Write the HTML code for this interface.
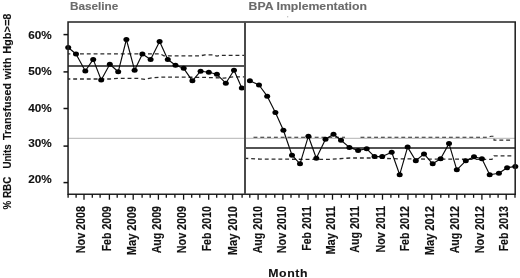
<!DOCTYPE html>
<html><head><meta charset="utf-8"><style>
html,body{margin:0;padding:0;background:#fff;}
body{width:520px;height:278px;overflow:hidden;}
svg{display:block;will-change:transform;}
text{white-space:pre;}
</style></head><body>
<svg width="520" height="278" viewBox="0 0 520 278">
<line x1="68" y1="138.4" x2="515" y2="138.4" stroke="#c2c2c2" stroke-width="1.1"/>
<line x1="68" y1="66.0" x2="245" y2="66.0" stroke="#1a1a1a" stroke-width="1.5"/>
<line x1="245" y1="147.9" x2="515" y2="147.9" stroke="#1a1a1a" stroke-width="1.5"/>
<polyline points="68.0,53.8 160.0,53.8 164.0,55.9 200.0,55.9 205.0,54.8 213.0,54.8 217.0,56.1 220.0,55.4 244.0,55.4" fill="none" stroke="#2a2a2a" stroke-width="1.3" stroke-dasharray="3.9 2.9" stroke-dashoffset="1.6"/>
<polyline points="68.0,79.0 110.0,79.0 120.0,78.3 138.0,78.4 145.0,79.3 152.0,77.9 162.0,77.1 200.0,77.3 215.0,77.7 224.0,78.1 234.0,76.8 244.0,76.8" fill="none" stroke="#2a2a2a" stroke-width="1.3" stroke-dasharray="3.9 2.9" stroke-dashoffset="1.6"/>
<polyline points="246.0,158.4 260.0,159.1 330.0,159.4 350.0,158.0 370.0,158.0 400.0,158.9 492.0,159.4 494.0,155.8 513.0,155.8" fill="none" stroke="#2a2a2a" stroke-width="1.3" stroke-dasharray="3.9 2.9" stroke-dashoffset="1.6"/>
<polyline points="253.5,137.2 345,137.2" fill="none" stroke="#2a2a2a" stroke-width="1.1" stroke-dasharray="3.9 2.9"/>
<polyline points="360.5,137.2 488.0,137.2 491.0,136.3 494.0,136.3 494.0,140.1 513.0,140.1" fill="none" stroke="#2a2a2a" stroke-width="1.1" stroke-dasharray="3.9 2.9"/>
<polyline points="68.2,47.5 76.0,54.0 85.3,71.0 93.2,59.4 101.2,80.0 109.8,64.2 118.2,71.8 126.4,39.5 134.6,70.2 142.4,54.1 150.6,59.4 159.6,41.5 167.8,59.5 175.5,65.2 183.7,68.3 192.4,80.8 200.6,71.2 208.8,72.2 216.9,74.3 225.8,83.2 234.0,70.2 241.8,88.0" fill="none" stroke="#0a0a0a" stroke-width="1.15" stroke-linejoin="round"/>
<polyline points="249.9,80.7 259.0,85.0 267.2,96.2 275.4,112.5 283.4,130.2 292.0,155.2 300.0,163.8 308.4,136.2 316.3,158.2 325.5,139.3 333.5,134.2 341.0,140.2 349.4,147.4 358.1,150.4 366.7,148.8 374.5,156.6 382.2,156.6 391.7,152.2 399.7,174.7 407.6,147.1 415.8,160.8 424.0,153.9 432.7,163.8 440.6,158.7 449.0,143.6 456.8,169.8 465.8,160.8 474.0,156.8 481.9,158.7 489.7,174.7 498.9,173.3 507.1,167.8 515.3,166.4" fill="none" stroke="#0a0a0a" stroke-width="1.15" stroke-linejoin="round"/>
<ellipse cx="68.2" cy="47.5" rx="3" ry="2.5" fill="#000"/>
<ellipse cx="76.0" cy="54.0" rx="3" ry="2.5" fill="#000"/>
<ellipse cx="85.3" cy="71.0" rx="3" ry="2.5" fill="#000"/>
<ellipse cx="93.2" cy="59.4" rx="3" ry="2.5" fill="#000"/>
<ellipse cx="101.2" cy="80.0" rx="3" ry="2.5" fill="#000"/>
<ellipse cx="109.8" cy="64.2" rx="3" ry="2.5" fill="#000"/>
<ellipse cx="118.2" cy="71.8" rx="3" ry="2.5" fill="#000"/>
<ellipse cx="126.4" cy="39.5" rx="3" ry="2.5" fill="#000"/>
<ellipse cx="134.6" cy="70.2" rx="3" ry="2.5" fill="#000"/>
<ellipse cx="142.4" cy="54.1" rx="3" ry="2.5" fill="#000"/>
<ellipse cx="150.6" cy="59.4" rx="3" ry="2.5" fill="#000"/>
<ellipse cx="159.6" cy="41.5" rx="3" ry="2.5" fill="#000"/>
<ellipse cx="167.8" cy="59.5" rx="3" ry="2.5" fill="#000"/>
<ellipse cx="175.5" cy="65.2" rx="3" ry="2.5" fill="#000"/>
<ellipse cx="183.7" cy="68.3" rx="3" ry="2.5" fill="#000"/>
<ellipse cx="192.4" cy="80.8" rx="3" ry="2.5" fill="#000"/>
<ellipse cx="200.6" cy="71.2" rx="3" ry="2.5" fill="#000"/>
<ellipse cx="208.8" cy="72.2" rx="3" ry="2.5" fill="#000"/>
<ellipse cx="216.9" cy="74.3" rx="3" ry="2.5" fill="#000"/>
<ellipse cx="225.8" cy="83.2" rx="3" ry="2.5" fill="#000"/>
<ellipse cx="234.0" cy="70.2" rx="3" ry="2.5" fill="#000"/>
<ellipse cx="241.8" cy="88.0" rx="3" ry="2.5" fill="#000"/>
<ellipse cx="249.9" cy="80.7" rx="3" ry="2.5" fill="#000"/>
<ellipse cx="259.0" cy="85.0" rx="3" ry="2.5" fill="#000"/>
<ellipse cx="267.2" cy="96.2" rx="3" ry="2.5" fill="#000"/>
<ellipse cx="275.4" cy="112.5" rx="3" ry="2.5" fill="#000"/>
<ellipse cx="283.4" cy="130.2" rx="3" ry="2.5" fill="#000"/>
<ellipse cx="292.0" cy="155.2" rx="3" ry="2.5" fill="#000"/>
<ellipse cx="300.0" cy="163.8" rx="3" ry="2.5" fill="#000"/>
<ellipse cx="308.4" cy="136.2" rx="3" ry="2.5" fill="#000"/>
<ellipse cx="316.3" cy="158.2" rx="3" ry="2.5" fill="#000"/>
<ellipse cx="325.5" cy="139.3" rx="3" ry="2.5" fill="#000"/>
<ellipse cx="333.5" cy="134.2" rx="3" ry="2.5" fill="#000"/>
<ellipse cx="341.0" cy="140.2" rx="3" ry="2.5" fill="#000"/>
<ellipse cx="349.4" cy="147.4" rx="3" ry="2.5" fill="#000"/>
<ellipse cx="358.1" cy="150.4" rx="3" ry="2.5" fill="#000"/>
<ellipse cx="366.7" cy="148.8" rx="3" ry="2.5" fill="#000"/>
<ellipse cx="374.5" cy="156.6" rx="3" ry="2.5" fill="#000"/>
<ellipse cx="382.2" cy="156.6" rx="3" ry="2.5" fill="#000"/>
<ellipse cx="391.7" cy="152.2" rx="3" ry="2.5" fill="#000"/>
<ellipse cx="399.7" cy="174.7" rx="3" ry="2.5" fill="#000"/>
<ellipse cx="407.6" cy="147.1" rx="3" ry="2.5" fill="#000"/>
<ellipse cx="415.8" cy="160.8" rx="3" ry="2.5" fill="#000"/>
<ellipse cx="424.0" cy="153.9" rx="3" ry="2.5" fill="#000"/>
<ellipse cx="432.7" cy="163.8" rx="3" ry="2.5" fill="#000"/>
<ellipse cx="440.6" cy="158.7" rx="3" ry="2.5" fill="#000"/>
<ellipse cx="449.0" cy="143.6" rx="3" ry="2.5" fill="#000"/>
<ellipse cx="456.8" cy="169.8" rx="3" ry="2.5" fill="#000"/>
<ellipse cx="465.8" cy="160.8" rx="3" ry="2.5" fill="#000"/>
<ellipse cx="474.0" cy="156.8" rx="3" ry="2.5" fill="#000"/>
<ellipse cx="481.9" cy="158.7" rx="3" ry="2.5" fill="#000"/>
<ellipse cx="489.7" cy="174.7" rx="3" ry="2.5" fill="#000"/>
<ellipse cx="498.9" cy="173.3" rx="3" ry="2.5" fill="#000"/>
<ellipse cx="507.1" cy="167.8" rx="3" ry="2.5" fill="#000"/>
<ellipse cx="515.3" cy="166.4" rx="3" ry="2.5" fill="#000"/>
<path d="M68.05,194.3 V21.95 H515.2 V194.3 Z" fill="none" stroke="#222" stroke-width="1.55"/>
<line x1="245" y1="21.95" x2="245" y2="194.3" stroke="#4a4a4a" stroke-width="2"/>
<line x1="63.5" y1="34.6" x2="68" y2="34.6" stroke="#111" stroke-width="1.5"/>
<line x1="63.5" y1="71.9" x2="68" y2="71.9" stroke="#111" stroke-width="1.5"/>
<line x1="63.5" y1="108.5" x2="68" y2="108.5" stroke="#111" stroke-width="1.5"/>
<line x1="63.5" y1="146.1" x2="68" y2="146.1" stroke="#111" stroke-width="1.5"/>
<line x1="63.5" y1="182.6" x2="68" y2="182.6" stroke="#111" stroke-width="1.5"/>
<line x1="68.1" y1="194.3" x2="68.1" y2="197.8" stroke="#111" stroke-width="1.3"/>
<line x1="76.1" y1="194.3" x2="76.1" y2="197.8" stroke="#111" stroke-width="1.3"/>
<line x1="84.0" y1="194.3" x2="84.0" y2="199.7" stroke="#111" stroke-width="1.3"/>
<line x1="92.3" y1="194.3" x2="92.3" y2="197.8" stroke="#111" stroke-width="1.3"/>
<line x1="100.1" y1="194.3" x2="100.1" y2="197.8" stroke="#111" stroke-width="1.3"/>
<line x1="109.4" y1="194.3" x2="109.4" y2="199.7" stroke="#111" stroke-width="1.3"/>
<line x1="117.2" y1="194.3" x2="117.2" y2="197.8" stroke="#111" stroke-width="1.3"/>
<line x1="125.2" y1="194.3" x2="125.2" y2="197.8" stroke="#111" stroke-width="1.3"/>
<line x1="133.2" y1="194.3" x2="133.2" y2="199.7" stroke="#111" stroke-width="1.3"/>
<line x1="142.1" y1="194.3" x2="142.1" y2="197.8" stroke="#111" stroke-width="1.3"/>
<line x1="150.2" y1="194.3" x2="150.2" y2="197.8" stroke="#111" stroke-width="1.3"/>
<line x1="158.4" y1="194.3" x2="158.4" y2="199.7" stroke="#111" stroke-width="1.3"/>
<line x1="166.3" y1="194.3" x2="166.3" y2="197.8" stroke="#111" stroke-width="1.3"/>
<line x1="174.9" y1="194.3" x2="174.9" y2="197.8" stroke="#111" stroke-width="1.3"/>
<line x1="183.6" y1="194.3" x2="183.6" y2="199.7" stroke="#111" stroke-width="1.3"/>
<line x1="191.7" y1="194.3" x2="191.7" y2="197.8" stroke="#111" stroke-width="1.3"/>
<line x1="199.8" y1="194.3" x2="199.8" y2="197.8" stroke="#111" stroke-width="1.3"/>
<line x1="208.7" y1="194.3" x2="208.7" y2="199.7" stroke="#111" stroke-width="1.3"/>
<line x1="216.7" y1="194.3" x2="216.7" y2="197.8" stroke="#111" stroke-width="1.3"/>
<line x1="225.1" y1="194.3" x2="225.1" y2="197.8" stroke="#111" stroke-width="1.3"/>
<line x1="232.8" y1="194.3" x2="232.8" y2="199.7" stroke="#111" stroke-width="1.3"/>
<line x1="242.1" y1="194.3" x2="242.1" y2="197.8" stroke="#111" stroke-width="1.3"/>
<line x1="249.8" y1="194.3" x2="249.8" y2="197.8" stroke="#111" stroke-width="1.3"/>
<line x1="258.1" y1="194.3" x2="258.1" y2="199.7" stroke="#111" stroke-width="1.3"/>
<line x1="266.0" y1="194.3" x2="266.0" y2="197.8" stroke="#111" stroke-width="1.3"/>
<line x1="274.8" y1="194.3" x2="274.8" y2="197.8" stroke="#111" stroke-width="1.3"/>
<line x1="282.9" y1="194.3" x2="282.9" y2="199.7" stroke="#111" stroke-width="1.3"/>
<line x1="291.0" y1="194.3" x2="291.0" y2="197.8" stroke="#111" stroke-width="1.3"/>
<line x1="299.0" y1="194.3" x2="299.0" y2="197.8" stroke="#111" stroke-width="1.3"/>
<line x1="308.0" y1="194.3" x2="308.0" y2="199.7" stroke="#111" stroke-width="1.3"/>
<line x1="316.0" y1="194.3" x2="316.0" y2="197.8" stroke="#111" stroke-width="1.3"/>
<line x1="324.2" y1="194.3" x2="324.2" y2="197.8" stroke="#111" stroke-width="1.3"/>
<line x1="332.5" y1="194.3" x2="332.5" y2="199.7" stroke="#111" stroke-width="1.3"/>
<line x1="341.3" y1="194.3" x2="341.3" y2="197.8" stroke="#111" stroke-width="1.3"/>
<line x1="349.4" y1="194.3" x2="349.4" y2="197.8" stroke="#111" stroke-width="1.3"/>
<line x1="357.5" y1="194.3" x2="357.5" y2="199.7" stroke="#111" stroke-width="1.3"/>
<line x1="365.6" y1="194.3" x2="365.6" y2="197.8" stroke="#111" stroke-width="1.3"/>
<line x1="374.2" y1="194.3" x2="374.2" y2="197.8" stroke="#111" stroke-width="1.3"/>
<line x1="382.5" y1="194.3" x2="382.5" y2="199.7" stroke="#111" stroke-width="1.3"/>
<line x1="390.9" y1="194.3" x2="390.9" y2="197.8" stroke="#111" stroke-width="1.3"/>
<line x1="398.7" y1="194.3" x2="398.7" y2="197.8" stroke="#111" stroke-width="1.3"/>
<line x1="407.9" y1="194.3" x2="407.9" y2="199.7" stroke="#111" stroke-width="1.3"/>
<line x1="416.0" y1="194.3" x2="416.0" y2="197.8" stroke="#111" stroke-width="1.3"/>
<line x1="424.0" y1="194.3" x2="424.0" y2="197.8" stroke="#111" stroke-width="1.3"/>
<line x1="431.8" y1="194.3" x2="431.8" y2="199.7" stroke="#111" stroke-width="1.3"/>
<line x1="440.8" y1="194.3" x2="440.8" y2="197.8" stroke="#111" stroke-width="1.3"/>
<line x1="448.8" y1="194.3" x2="448.8" y2="197.8" stroke="#111" stroke-width="1.3"/>
<line x1="456.8" y1="194.3" x2="456.8" y2="199.7" stroke="#111" stroke-width="1.3"/>
<line x1="464.8" y1="194.3" x2="464.8" y2="197.8" stroke="#111" stroke-width="1.3"/>
<line x1="473.6" y1="194.3" x2="473.6" y2="197.8" stroke="#111" stroke-width="1.3"/>
<line x1="481.9" y1="194.3" x2="481.9" y2="199.7" stroke="#111" stroke-width="1.3"/>
<line x1="490.0" y1="194.3" x2="490.0" y2="197.8" stroke="#111" stroke-width="1.3"/>
<line x1="498.1" y1="194.3" x2="498.1" y2="197.8" stroke="#111" stroke-width="1.3"/>
<line x1="506.2" y1="194.3" x2="506.2" y2="199.7" stroke="#111" stroke-width="1.3"/>
<line x1="515.0" y1="194.3" x2="515.0" y2="197.8" stroke="#111" stroke-width="1.3"/>
<text transform="translate(51.7,38.90) scale(1.07,1)" text-anchor="end" style="font-family:'Liberation Sans',sans-serif;font-weight:bold;stroke:currentColor;stroke-width:0.12px;font-size:11px" fill="#111" color="#111">60%</text>
<text transform="translate(51.7,74.80) scale(1.07,1)" text-anchor="end" style="font-family:'Liberation Sans',sans-serif;font-weight:bold;stroke:currentColor;stroke-width:0.12px;font-size:11px" fill="#111" color="#111">50%</text>
<text transform="translate(51.7,111.55) scale(1.07,1)" text-anchor="end" style="font-family:'Liberation Sans',sans-serif;font-weight:bold;stroke:currentColor;stroke-width:0.12px;font-size:11px" fill="#111" color="#111">40%</text>
<text transform="translate(51.7,147.25) scale(1.07,1)" text-anchor="end" style="font-family:'Liberation Sans',sans-serif;font-weight:bold;stroke:currentColor;stroke-width:0.12px;font-size:11px" fill="#111" color="#111">30%</text>
<text transform="translate(51.7,183.45) scale(1.07,1)" text-anchor="end" style="font-family:'Liberation Sans',sans-serif;font-weight:bold;stroke:currentColor;stroke-width:0.12px;font-size:11px" fill="#111" color="#111">20%</text>
<text transform="translate(84.60,206) rotate(-90) scale(1.0,1.23)" x="0" y="0" text-anchor="end" style="font-family:'Liberation Sans',sans-serif;font-weight:bold;stroke:currentColor;stroke-width:0.12px;font-size:10.75px" fill="#111" color="#111">Nov 2008</text>
<text transform="translate(110.60,206) rotate(-90) scale(0.987,1.23)" x="0" y="0" text-anchor="end" style="font-family:'Liberation Sans',sans-serif;font-weight:bold;stroke:currentColor;stroke-width:0.12px;font-size:10.75px" fill="#111" color="#111">Feb 2009</text>
<text transform="translate(135.95,206) rotate(-90) scale(1.03,1.23)" x="0" y="0" text-anchor="end" style="font-family:'Liberation Sans',sans-serif;font-weight:bold;stroke:currentColor;stroke-width:0.12px;font-size:10.75px" fill="#111" color="#111">May 2009</text>
<text transform="translate(161.15,206) rotate(-90) scale(0.99,1.23)" x="0" y="0" text-anchor="end" style="font-family:'Liberation Sans',sans-serif;font-weight:bold;stroke:currentColor;stroke-width:0.12px;font-size:10.75px" fill="#111" color="#111">Aug 2009</text>
<text transform="translate(185.95,206) rotate(-90) scale(1.0,1.23)" x="0" y="0" text-anchor="end" style="font-family:'Liberation Sans',sans-serif;font-weight:bold;stroke:currentColor;stroke-width:0.12px;font-size:10.75px" fill="#111" color="#111">Nov 2009</text>
<text transform="translate(211.15,206) rotate(-90) scale(0.987,1.23)" x="0" y="0" text-anchor="end" style="font-family:'Liberation Sans',sans-serif;font-weight:bold;stroke:currentColor;stroke-width:0.12px;font-size:10.75px" fill="#111" color="#111">Feb 2010</text>
<text transform="translate(236.95,206) rotate(-90) scale(1.03,1.23)" x="0" y="0" text-anchor="end" style="font-family:'Liberation Sans',sans-serif;font-weight:bold;stroke:currentColor;stroke-width:0.12px;font-size:10.75px" fill="#111" color="#111">May 2010</text>
<text transform="translate(262.35,206) rotate(-90) scale(0.99,1.23)" x="0" y="0" text-anchor="end" style="font-family:'Liberation Sans',sans-serif;font-weight:bold;stroke:currentColor;stroke-width:0.12px;font-size:10.75px" fill="#111" color="#111">Aug 2010</text>
<text transform="translate(286.35,206) rotate(-90) scale(1.0,1.23)" x="0" y="0" text-anchor="end" style="font-family:'Liberation Sans',sans-serif;font-weight:bold;stroke:currentColor;stroke-width:0.12px;font-size:10.75px" fill="#111" color="#111">Nov 2010</text>
<text transform="translate(310.60,206) rotate(-90) scale(0.987,1.23)" x="0" y="0" text-anchor="end" style="font-family:'Liberation Sans',sans-serif;font-weight:bold;stroke:currentColor;stroke-width:0.12px;font-size:10.75px" fill="#111" color="#111">Feb 2011</text>
<text transform="translate(335.00,206) rotate(-90) scale(1.03,1.23)" x="0" y="0" text-anchor="end" style="font-family:'Liberation Sans',sans-serif;font-weight:bold;stroke:currentColor;stroke-width:0.12px;font-size:10.75px" fill="#111" color="#111">May 2011</text>
<text transform="translate(359.25,206) rotate(-90) scale(0.99,1.23)" x="0" y="0" text-anchor="end" style="font-family:'Liberation Sans',sans-serif;font-weight:bold;stroke:currentColor;stroke-width:0.12px;font-size:10.75px" fill="#111" color="#111">Aug 2011</text>
<text transform="translate(384.80,206) rotate(-90) scale(1.0,1.23)" x="0" y="0" text-anchor="end" style="font-family:'Liberation Sans',sans-serif;font-weight:bold;stroke:currentColor;stroke-width:0.12px;font-size:10.75px" fill="#111" color="#111">Nov 2011</text>
<text transform="translate(408.85,206) rotate(-90) scale(0.987,1.23)" x="0" y="0" text-anchor="end" style="font-family:'Liberation Sans',sans-serif;font-weight:bold;stroke:currentColor;stroke-width:0.12px;font-size:10.75px" fill="#111" color="#111">Feb 2012</text>
<text transform="translate(434.25,206) rotate(-90) scale(1.03,1.23)" x="0" y="0" text-anchor="end" style="font-family:'Liberation Sans',sans-serif;font-weight:bold;stroke:currentColor;stroke-width:0.12px;font-size:10.75px" fill="#111" color="#111">May 2012</text>
<text transform="translate(458.85,206) rotate(-90) scale(0.99,1.23)" x="0" y="0" text-anchor="end" style="font-family:'Liberation Sans',sans-serif;font-weight:bold;stroke:currentColor;stroke-width:0.12px;font-size:10.75px" fill="#111" color="#111">Aug 2012</text>
<text transform="translate(484.25,206) rotate(-90) scale(1.0,1.23)" x="0" y="0" text-anchor="end" style="font-family:'Liberation Sans',sans-serif;font-weight:bold;stroke:currentColor;stroke-width:0.12px;font-size:10.75px" fill="#111" color="#111">Nov 2012</text>
<text transform="translate(508.45,206) rotate(-90) scale(0.987,1.23)" x="0" y="0" text-anchor="end" style="font-family:'Liberation Sans',sans-serif;font-weight:bold;stroke:currentColor;stroke-width:0.12px;font-size:10.75px" fill="#111" color="#111">Feb 2013</text>
<text transform="translate(10.6,209.50) rotate(-90)" textLength="32.80" lengthAdjust="spacingAndGlyphs" style="font-family:'Liberation Sans',sans-serif;font-weight:bold;stroke:currentColor;stroke-width:0.12px;font-size:10.8px" fill="#111" color="#111">% RBC</text>
<text transform="translate(10.6,168.60) rotate(-90)" textLength="24.30" lengthAdjust="spacingAndGlyphs" style="font-family:'Liberation Sans',sans-serif;font-weight:bold;stroke:currentColor;stroke-width:0.12px;font-size:10.8px" fill="#111" color="#111">Units</text>
<text transform="translate(10.6,140.10) rotate(-90)" textLength="57.10" lengthAdjust="spacingAndGlyphs" style="font-family:'Liberation Sans',sans-serif;font-weight:bold;stroke:currentColor;stroke-width:0.12px;font-size:10.8px" fill="#111" color="#111">Transfused</text>
<text transform="translate(10.6,79.60) rotate(-90)" textLength="22.00" lengthAdjust="spacingAndGlyphs" style="font-family:'Liberation Sans',sans-serif;font-weight:bold;stroke:currentColor;stroke-width:0.12px;font-size:10.8px" fill="#111" color="#111">with</text>
<text transform="translate(10.6,53.80) rotate(-90)" textLength="40.20" lengthAdjust="spacingAndGlyphs" style="font-family:'Liberation Sans',sans-serif;font-weight:bold;stroke:currentColor;stroke-width:0.12px;font-size:10.8px" fill="#111" color="#111">Hgb&gt;=8</text>
<text transform="translate(268.3,276.6) scale(1.12,1)" style="font-family:'Liberation Sans',sans-serif;font-weight:bold;stroke:currentColor;stroke-width:0.12px;font-size:11px;letter-spacing:0.5px" fill="#111" color="#111">Month</text>
<text transform="translate(69.9,10) scale(1.07,1)" style="font-family:'Liberation Sans',sans-serif;font-weight:bold;stroke:currentColor;stroke-width:0.12px;font-size:11px" fill="#6b6b6b" color="#6b6b6b">Baseline</text>
<text transform="translate(248.6,10) scale(1.115,1)" style="font-family:'Liberation Sans',sans-serif;font-weight:bold;stroke:currentColor;stroke-width:0.12px;font-size:11px" fill="#6b6b6b" color="#6b6b6b">BPA Implementation</text>
<rect x="287.2" y="16.3" width="1" height="1" fill="#999"/>
</svg>
</body></html>
